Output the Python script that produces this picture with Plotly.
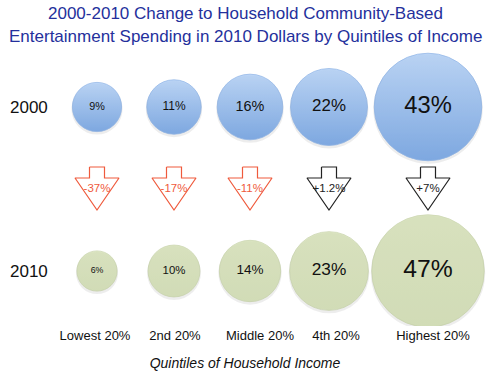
import plotly.graph_objects as go
import numpy as np

# ---- data ----
quintiles = ["Lowest 20%", "2nd 20%", "Middle 20%", "4th 20%", "Highest 20%"]
share_2000 = [9, 11, 16, 22, 43]
share_2010 = [6, 10, 14, 23, 47]
change_labels = ["-37%", "-17%", "-11%", "+1.2%", "+7%"]
years = ["2000", "2010"]
title_lines = ["2000-2010 Change to Household Community-Based",
               "Entertainment Spending in 2010 Dollars by Quintiles of Income"]

# ---- layout constants (pixel-like coordinates) ----
W, H = 490, 372
BOTTOM = 46
col_x = np.array([97, 174, 250, 329, 428])
label_x = [95, 175, 260, 336, 433]
row_y = {"2000": 107, "2010": 271}
DIAM_K = 16.4
FONT = "Liberation Sans"
RED = "#ef5a3c"

fig = go.Figure()

def add_row(values, y, fill, grad, line):
    v = np.array(values, dtype=float)
    d = DIAM_K * np.sqrt(v)
    # soft shadow
    fig.add_trace(go.Scatter(
        x=col_x, y=[y + 2] * len(v), mode="markers",
        marker=dict(size=d + 2, color="rgba(0,0,0,0.10)", line=dict(width=0)),
        hoverinfo="skip", showlegend=False))
    fig.add_trace(go.Scatter(
        x=col_x, y=[y] * len(v), mode="markers+text",
        marker=dict(size=d, color=fill,
                     gradient=dict(type="vertical", color=grad),
                     line=dict(width=0.8, color=line)),
        text=[f"{int(x)}%" for x in v], textposition="middle center",
        textfont=dict(family=FONT, size=list(np.round(d * 0.22, 1)), color="#111111"),
        hoverinfo="skip", showlegend=False))

add_row(share_2000, row_y["2000"], "#a4c8f6", "#4f8bdb", "#6a9bdd")
add_row(share_2010, row_y["2010"], "#cfdcaa", "#c6d5a0", "#b8c792")

# arrows
stem_top, head_top, tip = 167, 178, 210
stem_hw, head_hw = 7.5, 22
for cx, lab in zip(col_x, change_labels):
    col = RED if lab.startswith("-") else "#222222"
    xs = [cx - stem_hw, cx + stem_hw, cx + stem_hw, cx + head_hw, cx, cx - head_hw, cx - stem_hw, cx - stem_hw]
    ys = [stem_top, stem_top, head_top, head_top, tip, head_top, head_top, stem_top]
    fig.add_trace(go.Scatter(x=xs, y=ys, mode="lines", fill="toself",
                             fillcolor="white", line=dict(color=col, width=1.2),
                             hoverinfo="skip", showlegend=False))
    fig.add_trace(go.Scatter(x=[cx], y=[189], mode="text", text=[lab],
                             textfont=dict(family=FONT, size=11.5, color=col),
                             hoverinfo="skip", showlegend=False))

# year labels
for yr in years:
    fig.add_annotation(x=29, y=row_y[yr], text=yr, showarrow=False,
                       font=dict(family=FONT, size=17, color="#111111"),
                       xanchor="center", yanchor="middle")

# title (two lines)
for ty, line in zip([13, 36], title_lines):
    fig.add_annotation(x=W / 2, y=ty, text=line, showarrow=False,
                       font=dict(family=FONT, size=17, color="#24309c"),
                       xanchor="center", yanchor="middle")

fig.update_layout(
    width=W, height=H,
    margin=dict(l=0, r=0, t=0, b=BOTTOM),
    paper_bgcolor="white", plot_bgcolor="white",
    xaxis=dict(range=[0, W], showgrid=False, zeroline=False, showline=False,
               tickvals=label_x, ticktext=quintiles, ticks="",
               tickfont=dict(family=FONT, size=13, color="#111111"),
               title=dict(text="Quintiles of Household Income", standoff=16,
                          font=dict(family=FONT, size=14, color="#111111", style="italic"))),
    yaxis=dict(range=[H - BOTTOM, 0], showgrid=False, zeroline=False, showline=False,
               showticklabels=False),
)

fig.write_html("out.html", config={"displayModeBar": False},
               post_script="document.body.style.margin='0';")
